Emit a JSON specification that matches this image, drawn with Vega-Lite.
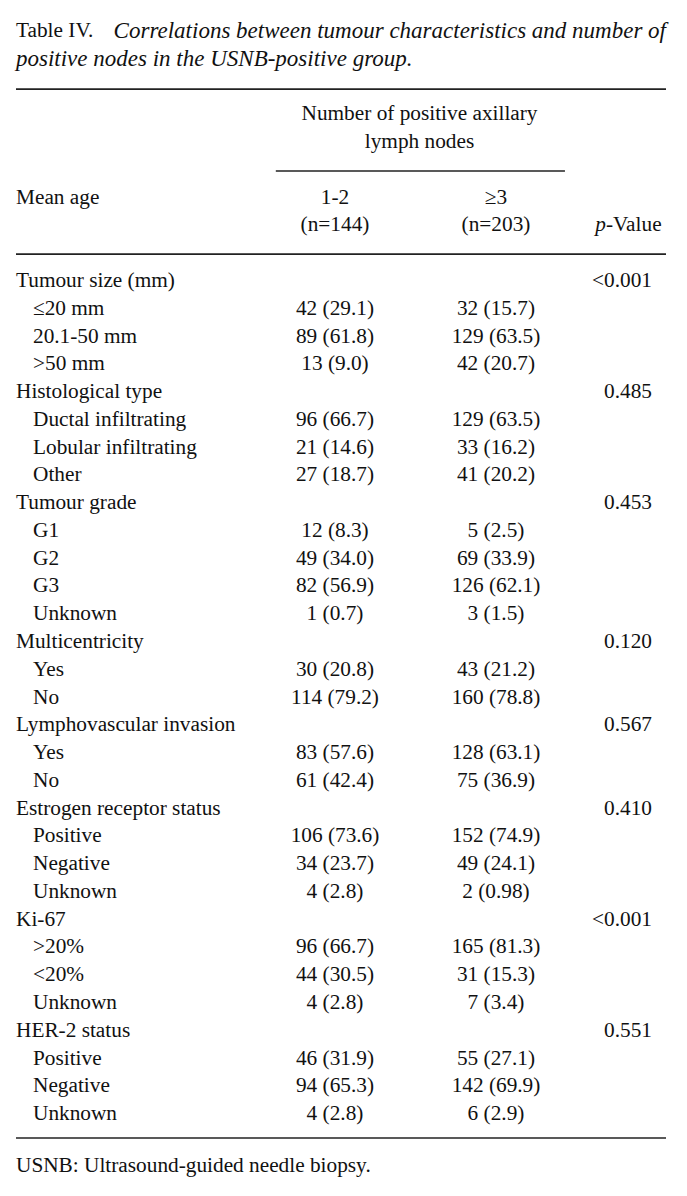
{
  "$schema": "https://vega.github.io/schema/vega-lite/v6.json",
  "width": 687,
  "height": 1196,
  "autosize": {"type": "fit", "contains": "padding"},
  "padding": 0,
  "background": "white",
  "config": {
    "view": {"stroke": null},
    "text": {"font": "Liberation Serif", "fontSize": 21.3, "color": "#111111", "baseline": "middle"},
    "rule": {"color": "#222", "strokeWidth": 1.6}
  },
  "datasets": {
    "table": [
      {"row": -3, "kind": "group", "variable": "Mean age", "n12": "1-2", "n3": "≥3", "p": ""},
      {"row": -2, "kind": "group", "variable": "", "n12": "(n=144)", "n3": "(n=203)", "p": ""},
      {"row": 0, "kind": "group", "variable": "Tumour size (mm)", "n12": "", "n3": "", "p": "<0.001"},
      {"row": 1, "kind": "item", "variable": "≤20 mm", "n12": "42 (29.1)", "n3": "32 (15.7)", "p": ""},
      {"row": 2, "kind": "item", "variable": "20.1-50 mm", "n12": "89 (61.8)", "n3": "129 (63.5)", "p": ""},
      {"row": 3, "kind": "item", "variable": ">50 mm", "n12": "13 (9.0)", "n3": "42 (20.7)", "p": ""},
      {"row": 4, "kind": "group", "variable": "Histological type", "n12": "", "n3": "", "p": "0.485"},
      {"row": 5, "kind": "item", "variable": "Ductal infiltrating", "n12": "96 (66.7)", "n3": "129 (63.5)", "p": ""},
      {"row": 6, "kind": "item", "variable": "Lobular infiltrating", "n12": "21 (14.6)", "n3": "33 (16.2)", "p": ""},
      {"row": 7, "kind": "item", "variable": "Other", "n12": "27 (18.7)", "n3": "41 (20.2)", "p": ""},
      {"row": 8, "kind": "group", "variable": "Tumour grade", "n12": "", "n3": "", "p": "0.453"},
      {"row": 9, "kind": "item", "variable": "G1", "n12": "12 (8.3)", "n3": "5 (2.5)", "p": ""},
      {"row": 10, "kind": "item", "variable": "G2", "n12": "49 (34.0)", "n3": "69 (33.9)", "p": ""},
      {"row": 11, "kind": "item", "variable": "G3", "n12": "82 (56.9)", "n3": "126 (62.1)", "p": ""},
      {"row": 12, "kind": "item", "variable": "Unknown", "n12": "1 (0.7)", "n3": "3 (1.5)", "p": ""},
      {"row": 13, "kind": "group", "variable": "Multicentricity", "n12": "", "n3": "", "p": "0.120"},
      {"row": 14, "kind": "item", "variable": "Yes", "n12": "30 (20.8)", "n3": "43 (21.2)", "p": ""},
      {"row": 15, "kind": "item", "variable": "No", "n12": "114 (79.2)", "n3": "160 (78.8)", "p": ""},
      {"row": 16, "kind": "group", "variable": "Lymphovascular invasion", "n12": "", "n3": "", "p": "0.567"},
      {"row": 17, "kind": "item", "variable": "Yes", "n12": "83 (57.6)", "n3": "128 (63.1)", "p": ""},
      {"row": 18, "kind": "item", "variable": "No", "n12": "61 (42.4)", "n3": "75 (36.9)", "p": ""},
      {"row": 19, "kind": "group", "variable": "Estrogen receptor status", "n12": "", "n3": "", "p": "0.410"},
      {"row": 20, "kind": "item", "variable": "Positive", "n12": "106 (73.6)", "n3": "152 (74.9)", "p": ""},
      {"row": 21, "kind": "item", "variable": "Negative", "n12": "34 (23.7)", "n3": "49 (24.1)", "p": ""},
      {"row": 22, "kind": "item", "variable": "Unknown", "n12": "4 (2.8)", "n3": "2 (0.98)", "p": ""},
      {"row": 23, "kind": "group", "variable": "Ki-67", "n12": "", "n3": "", "p": "<0.001"},
      {"row": 24, "kind": "item", "variable": ">20%", "n12": "96 (66.7)", "n3": "165 (81.3)", "p": ""},
      {"row": 25, "kind": "item", "variable": "<20%", "n12": "44 (30.5)", "n3": "31 (15.3)", "p": ""},
      {"row": 26, "kind": "item", "variable": "Unknown", "n12": "4 (2.8)", "n3": "7 (3.4)", "p": ""},
      {"row": 27, "kind": "group", "variable": "HER-2 status", "n12": "", "n3": "", "p": "0.551"},
      {"row": 28, "kind": "item", "variable": "Positive", "n12": "46 (31.9)", "n3": "55 (27.1)", "p": ""},
      {"row": 29, "kind": "item", "variable": "Negative", "n12": "94 (65.3)", "n3": "142 (69.9)", "p": ""},
      {"row": 30, "kind": "item", "variable": "Unknown", "n12": "4 (2.8)", "n3": "6 (2.9)", "p": ""}
    ]
  },
  "layer": [
    {
      "data": {"name": "table"},
      "transform": [{"filter": "datum.kind === 'group'"}],
      "mark": {"type": "text", "align": "left"},
      "encoding": {
        "x": {"datum": 0, "type": "quantitative", "scale": {"type": "linear", "domain": [0, 1, 2, 3, 4, 5], "range": [16, 33, 335, 496, 652, 666], "nice": false, "zero": false}, "axis": null},
        "y": {"field": "row", "type": "quantitative", "scale": {"type": "linear", "domain": [-10.12, 32.95], "reverse": true, "nice": false, "zero": false}, "axis": null},
        "text": {"field": "variable"}
      }
    },
    {
      "data": {"name": "table"},
      "transform": [{"filter": "datum.kind === 'item'"}],
      "mark": {"type": "text", "align": "left"},
      "encoding": {
        "x": {"datum": 1, "type": "quantitative"},
        "y": {"field": "row", "type": "quantitative"},
        "text": {"field": "variable"}
      }
    },
    {
      "data": {"name": "table"},
      "mark": {"type": "text", "align": "center"},
      "encoding": {
        "x": {"datum": 2, "type": "quantitative"},
        "y": {"field": "row", "type": "quantitative"},
        "text": {"field": "n12"}
      }
    },
    {
      "data": {"name": "table"},
      "mark": {"type": "text", "align": "center"},
      "encoding": {
        "x": {"datum": 3, "type": "quantitative"},
        "y": {"field": "row", "type": "quantitative"},
        "text": {"field": "n3"}
      }
    },
    {
      "data": {"name": "table"},
      "mark": {"type": "text", "align": "right"},
      "encoding": {
        "x": {"datum": 4, "type": "quantitative"},
        "y": {"field": "row", "type": "quantitative"},
        "text": {"field": "p"}
      }
    },
    {
      "data": {"values": [{"row": -2, "text": "p"}]},
      "mark": {"type": "text", "align": "right", "fontStyle": "italic", "dx": -46},
      "encoding": {
        "x": {"datum": 4, "type": "quantitative"},
        "y": {"field": "row", "type": "quantitative"},
        "text": {"field": "text"}
      }
    },
    {
      "data": {"values": [{"row": -2, "text": "-Value"}]},
      "mark": {"type": "text", "align": "left", "dx": -46},
      "encoding": {
        "x": {"datum": 4, "type": "quantitative"},
        "y": {"field": "row", "type": "quantitative"},
        "text": {"field": "text"}
      }
    },
    {
      "data": {"values": [{"row": -6, "text": "Number of positive axillary"}, {"row": -5, "text": "lymph nodes"}]},
      "mark": {"type": "text", "align": "center", "dx": 4},
      "encoding": {
        "x": {"datum": 2.5, "type": "quantitative"},
        "y": {"field": "row", "type": "quantitative"},
        "text": {"field": "text"}
      }
    },
    {
      "data": {"values": [{"row": -9, "text": "Table IV."}]},
      "mark": {"type": "text", "align": "left"},
      "encoding": {
        "x": {"datum": 0, "type": "quantitative"},
        "y": {"field": "row", "type": "quantitative"},
        "text": {"field": "text"}
      }
    },
    {
      "data": {"values": [{"row": -9, "text": "Correlations between tumour characteristics and number of"}]},
      "mark": {"type": "text", "align": "right", "fontStyle": "italic", "fontSize": 23},
      "encoding": {
        "x": {"datum": 5, "type": "quantitative"},
        "y": {"field": "row", "type": "quantitative"},
        "text": {"field": "text"}
      }
    },
    {
      "data": {"values": [{"row": -8, "text": "positive nodes in the USNB-positive group."}]},
      "mark": {"type": "text", "align": "left", "fontStyle": "italic", "fontSize": 23},
      "encoding": {
        "x": {"datum": 0, "type": "quantitative"},
        "y": {"field": "row", "type": "quantitative"},
        "text": {"field": "text"}
      }
    },
    {
      "data": {"values": [{"row": 31.87, "text": "USNB: Ultrasound-guided needle biopsy."}]},
      "mark": {"type": "text", "align": "left"},
      "encoding": {
        "x": {"datum": 0, "type": "quantitative"},
        "y": {"field": "row", "type": "quantitative"},
        "text": {"field": "text"}
      }
    },
    {
      "data": {"values": [{}]},
      "mark": {"type": "rule"},
      "encoding": {
        "x": {"datum": 0, "type": "quantitative"},
        "x2": {"datum": 5},
        "y": {"datum": -6.91, "type": "quantitative"}
      }
    },
    {
      "data": {"values": [{}]},
      "mark": {"type": "rule"},
      "encoding": {
        "x": {"datum": 1.804, "type": "quantitative"},
        "x2": {"datum": 3.442},
        "y": {"datum": -3.96, "type": "quantitative"}
      }
    },
    {
      "data": {"values": [{}]},
      "mark": {"type": "rule"},
      "encoding": {
        "x": {"datum": 0, "type": "quantitative"},
        "x2": {"datum": 5},
        "y": {"datum": -0.97, "type": "quantitative"}
      }
    },
    {
      "data": {"values": [{}]},
      "mark": {"type": "rule"},
      "encoding": {
        "x": {"datum": 0, "type": "quantitative"},
        "x2": {"datum": 5},
        "y": {"datum": 30.86, "type": "quantitative"}
      }
    }
  ]
}
